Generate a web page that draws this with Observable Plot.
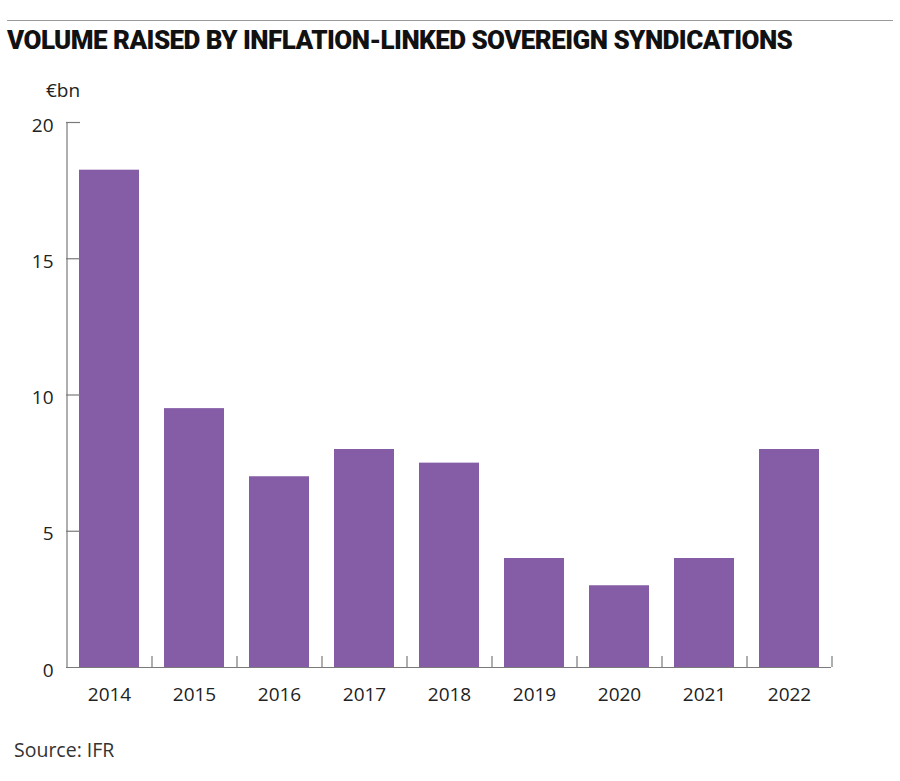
<!DOCTYPE html>
<html>
<head>
<meta charset="utf-8">
<script src="https://cdn.jsdelivr.net/npm/d3@7"></script>
<script src="https://cdn.jsdelivr.net/npm/@observablehq/plot@0.6"></script>
<style>
  html, body { margin: 0; padding: 0; background: #fff; }
  body { width: 900px; height: 781px; position: relative; font-family: "Open Sans", sans-serif; color: #222; }
  #rule { position: absolute; left: 7px; top: 20px; width: 886px; height: 0; border-top: 1px solid #9a9a9a; }
  #title { position: absolute; left: 7px; top: 25px; font-family: "Roboto", sans-serif; font-weight: 900; font-size: 26px; letter-spacing: -0.55px; color: #111; white-space: nowrap; }
  #unit { position: absolute; left: 46px; top: 77px; font-size: 19px; color: #222; }
  #chart { position: absolute; left: 0; top: 100px; }
  #source { position: absolute; left: 14px; top: 736px; font-size: 19.5px; color: #333; }
</style>
</head>
<body>
<div id="rule"></div>
<div id="title">VOLUME RAISED BY INFLATION-LINKED SOVEREIGN SYNDICATIONS</div>
<div id="unit">€bn</div>
<div id="chart"></div>
<div id="source">Source: IFR</div>
<script>
const years = ["2014", "2015", "2016", "2017", "2018", "2019", "2020", "2021", "2022"];
const volumes = [18.25, 9.5, 7.0, 8.0, 7.5, 4.0, 3.0, 4.0, 8.0];
const yTicks = [0, 5, 10, 15, 20];

const data = years.map((year, i) => ({year, value: volumes[i]}));
const axisColor = "#7a7a7a";
const step = 85;

const plot = Plot.plot({
  width: 900,
  height: 620,
  marginLeft: 66,
  marginRight: 69,
  marginTop: 22,
  marginBottom: 53,
  style: {fontFamily: "Open Sans, sans-serif", fontSize: "19px", color: "#222", background: "transparent"},
  x: {type: "band", domain: years, paddingInner: 25 / 85, paddingOuter: 12.5 / 85, align: 0.5, label: null},
  y: {domain: [0, 20], label: null},
  marks: [
    Plot.barY(data, {x: "year", y: "value", fill: "#855da6"}),
    // y axis line
    Plot.ruleX([years[0]], {x: d => d, dx: -step / 2, y1: 0, y2: 20, stroke: axisColor, strokeWidth: 1.2}),
    // baseline
    Plot.ruleY([0], {stroke: axisColor, strokeWidth: 1.2}),
    // x band boundary ticks
    Plot.ruleX(years, {x: d => d, dx: step / 2, y1: 0, y2: 0.4, stroke: axisColor, strokeWidth: 1.2}),
    // inward y ticks
    Plot.tickY(yTicks.filter(d => d > 0), {y: d => d, frameAnchor: "left", stroke: axisColor, strokeWidth: 1.2, insetRight: 900 - 66 - 69 - 14}),
    Plot.axisY(yTicks, {tickSize: 0, tickPadding: 13, dy: 3, fontSize: 19, tickFormat: d => d, fill: "#222"}),
    Plot.axisX({tickSize: 0, tickPadding: 20, fontSize: 19, fill: "#222"})
  ]
});
document.getElementById("chart").appendChild(plot);
</script>
</body>
</html>
